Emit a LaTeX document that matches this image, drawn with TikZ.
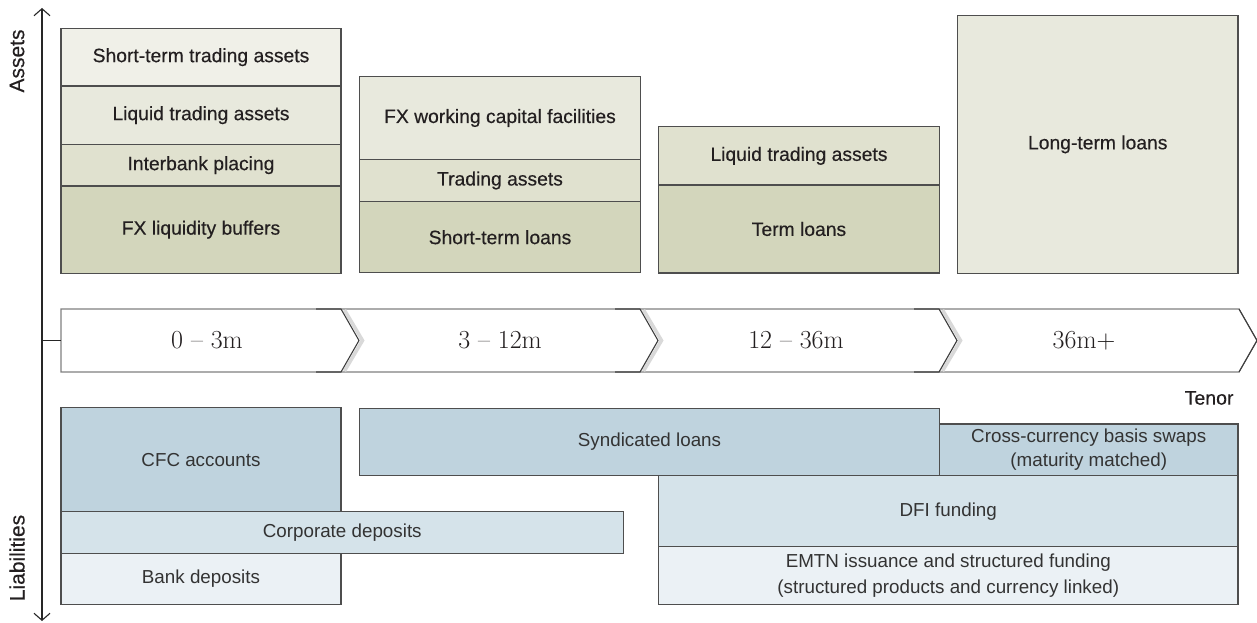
\documentclass[tikz,border=0pt]{standalone}
\usepackage{fontspec}
\setsansfont{Liberation Sans}
\newfontfamily\medsans{Liberation Sans}[FakeBold=0.35]
\usetikzlibrary{arrows.meta}
\definecolor{a1}{HTML}{F0F0E8}
\definecolor{a2}{HTML}{E8E9DD}
\definecolor{a3}{HTML}{E0E1CF}
\definecolor{a4}{HTML}{D3D6BC}
\definecolor{l1}{HTML}{BFD3DE}
\definecolor{l2}{HTML}{D5E3EA}
\definecolor{l3}{HTML}{EBF1F5}
\definecolor{bordc}{HTML}{4E4E4E}
\definecolor{txta}{HTML}{231F20}
\definecolor{txtl}{HTML}{333333}
\begin{document}
\begin{tikzpicture}[x=1pt,y=-1pt,
  box/.style={draw=bordc, line width=1.1pt, inner sep=0pt, outer sep=0pt, anchor=north west, align=center},
  abox/.style={box, text=txta, font=\medsans\fontsize{19.3}{22}\selectfont},
  lbox/.style={box, text=txtl, font=\sffamily\fontsize{18.8}{24.5}\selectfont},
  axisline/.style={draw=black!85, line width=1.1pt},
  bandline/.style={draw=black!50, line width=1.1pt},
  notch/.style={draw=black!75, line width=1.1pt},
  notchshadow/.style={draw=black!15, line width=3.5pt},
  tenorlbl/.style={font=\fontsize{26}{29}\selectfont, text=txta},
  axlbl/.style={rotate=90, font=\medsans\fontsize{21}{24}\selectfont, text=txta}
]
\useasboundingbox (0,0) rectangle (1257,623);

% axis
\coordinate (atop) at (42,8);
\coordinate (abot) at (42,621);
\coordinate (amid) at (42,340.5);
\draw[axisline, {Straight Barb[length=7pt,width=16pt]}-{Straight Barb[length=7pt,width=16pt]}] (abot) -- (atop);
\node[axlbl] (assets) at (17,61) {Assets};
\node[axlbl] (liab) at (17,558) {Liabilities};

% assets column 1
\node[abox, fill=a1, minimum width=280pt, minimum height=57.7pt] (c1a) at (61,28.3) {Short-term trading assets};
\node[abox, fill=a2, minimum width=280pt, minimum height=58.3pt] (c1b) at (61,86) {Liquid trading assets};
\node[abox, fill=a3, minimum width=280pt, minimum height=41.7pt] (c1c) at (61,144.3) {Interbank placing};
\node[abox, fill=a4, minimum width=280pt, minimum height=87.3pt] (c1d) at (61,186) {FX liquidity buffers};
% column 2
\node[abox, fill=a2, minimum width=281pt, minimum height=82.6pt] (c2a) at (359.5,76.7) {FX working capital facilities};
\node[abox, fill=a3, minimum width=281pt, minimum height=42.4pt] (c2b) at (359.5,159.3) {Trading assets};
\node[abox, fill=a4, minimum width=281pt, minimum height=71pt] (c2c) at (359.5,201.7) {Short-term loans};
% column 3
\node[abox, fill=a3, minimum width=281pt, minimum height=58.3pt] (c3a) at (658.5,126.7) {Liquid trading assets};
\node[abox, fill=a4, minimum width=281pt, minimum height=88pt] (c3b) at (658.5,185) {Term loans};
% column 4
\node[abox, fill=a2, minimum width=280.5pt, minimum height=258pt] (c4a) at (957.5,15.3) {Long-term loans};

% tenor band
\coordinate (b1) at (61,309);
\coordinate (b2) at (1239,309);
\coordinate (b3) at (1257,340.5);
\coordinate (b4) at (1239,372);
\coordinate (b5) at (61,372);
\filldraw[fill=white, bandline] (b1) -- (b2) -- (b3) -- (b4) -- (b5) -- cycle;
\foreach \x in {341,640,939}{
  \draw[notchshadow] (\x+3.5,310) -- (\x+21.5,340.5) -- (\x+3.5,371);
  \draw[notch] (\x-25,309) -- (\x,309) -- (\x+18,340.5) -- (\x,372) -- (\x-25,372);
}
\draw[notch] (b2) -- (b3) -- (b4);
\draw[axisline] (amid) -- (b5 |- amid);
\node[tenorlbl] (t1) at (207,340.5) {0 -- 3m};
\node[tenorlbl] (t2) at (500,340.5) {3 -- 12m};
\node[tenorlbl] (t3) at (796,340.5) {12 -- 36m};
\node[tenorlbl] (t4) at (1084,340.5) {36m+};

\node[anchor=east, font=\medsans\fontsize{19.5}{22}\selectfont, text=txta] (tenor) at (1237,398) {Tenor};

% liabilities
\node[lbox, fill=l1, minimum width=280pt, minimum height=104pt] (cfc) at (61,407.7) {CFC accounts};
\node[lbox, fill=l2, minimum width=562.5pt, minimum height=41.6pt] (corp) at (61,511.7) {Corporate deposits};
\node[lbox, fill=l3, minimum width=280pt, minimum height=51pt] (bank) at (61,553.3) {Bank deposits};
\node[lbox, fill=l1, minimum width=580pt, minimum height=67.4pt] (synd) at (359.5,408.3) {Syndicated loans};
\node[lbox, fill=l1, minimum width=298.5pt, minimum height=51.7pt, font=\sffamily\fontsize{18.8}{23.5}\selectfont] (ccbs) at (939.5,424) {Cross-currency basis swaps\\(maturity matched)};
\node[lbox, fill=l2, minimum width=579.5pt, minimum height=71pt] (dfi) at (658.5,475.7) {DFI funding};
\node[lbox, fill=l3, minimum width=579.5pt, minimum height=57.6pt, font=\sffamily\fontsize{18.8}{25.5}\selectfont] (emtn) at (658.5,546.7) {EMTN issuance and structured funding\\(structured products and currency linked)};
\end{tikzpicture}
\end{document}
